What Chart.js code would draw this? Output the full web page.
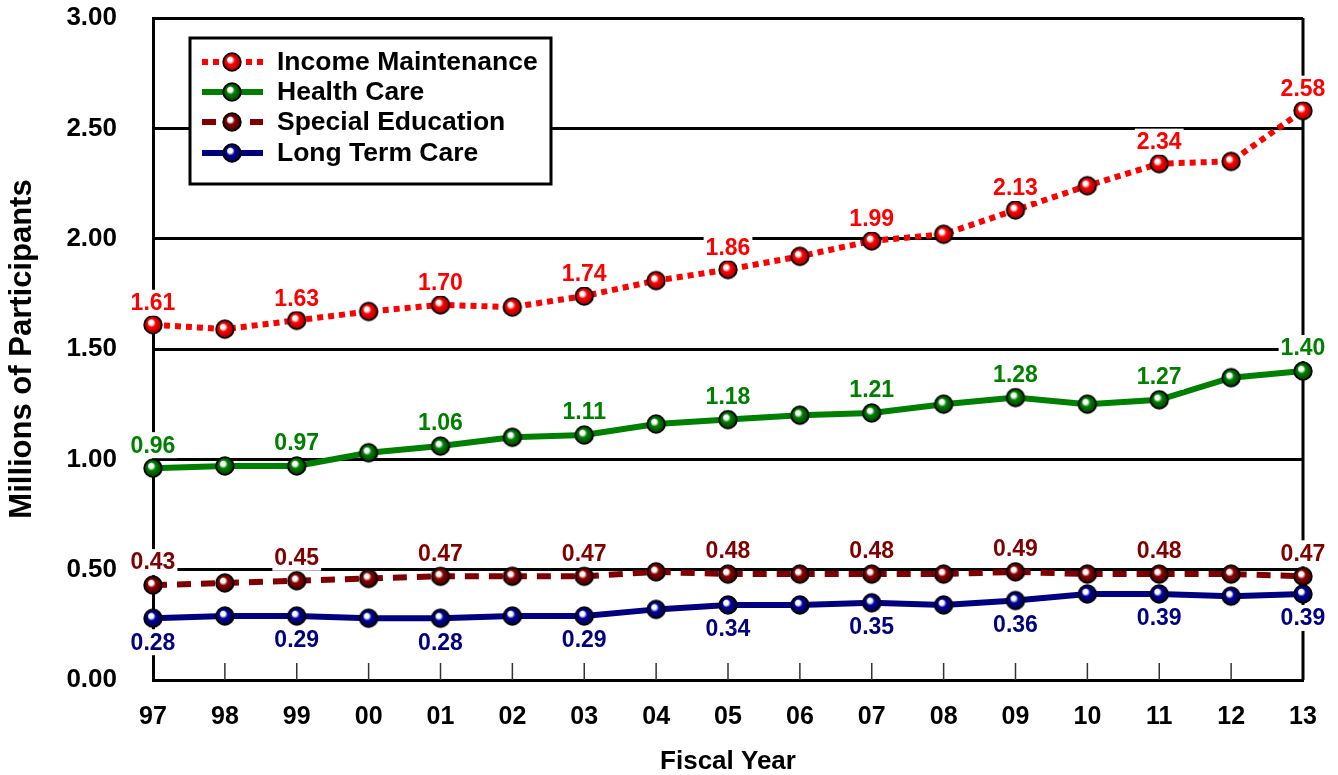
<!DOCTYPE html>
<html>
<head>
<meta charset="utf-8">
<script src="https://cdn.jsdelivr.net/npm/chart.js@4.4.1/dist/chart.umd.min.js"></script>
<style>
  html, body { margin: 0; padding: 0; background: #fff; }
  #chart { display: block; }
</style>
</head>
<body>
<canvas id="chart" width="1338" height="775"></canvas>
<script>
// fiscal years and participants (millions)
const years = ["97", "98", "99", "00", "01", "02", "03", "04", "05", "06", "07", "08", "09", "10", "11", "12", "13"];
const incomeMaintenance = [1.61, 1.59, 1.63, 1.67, 1.70, 1.69, 1.74, 1.81, 1.86, 1.92, 1.99, 2.02, 2.13, 2.24, 2.34, 2.35, 2.58];
const healthCare = [0.96, 0.97, 0.97, 1.03, 1.06, 1.10, 1.11, 1.16, 1.18, 1.20, 1.21, 1.25, 1.28, 1.25, 1.27, 1.37, 1.40];
const specialEducation = [0.43, 0.44, 0.45, 0.46, 0.47, 0.47, 0.47, 0.49, 0.48, 0.48, 0.48, 0.48, 0.49, 0.48, 0.48, 0.48, 0.47];
const longTermCare = [0.28, 0.29, 0.29, 0.28, 0.28, 0.29, 0.29, 0.32, 0.34, 0.34, 0.35, 0.34, 0.36, 0.39, 0.39, 0.38, 0.39];
const seriesNames = ["Income Maintenance", "Health Care", "Special Education", "Long Term Care"];
const yTickValues = [0, 0.5, 1.0, 1.5, 2.0, 2.5, 3.0];

const FONT = "'Liberation Sans', Arial, Helvetica, sans-serif";

// little shaded ball used as point marker
function sphere(color, dark) {
  const s = 22;
  const c = document.createElement("canvas");
  c.width = s; c.height = s;
  const g = c.getContext("2d");
  const r = 8.8;
  const grad = g.createRadialGradient(s / 2 - 2.5, s / 2 - 3, 0.5, s / 2, s / 2, r);
  grad.addColorStop(0, "#ffffff");
  grad.addColorStop(0.22, "#ffffff");
  grad.addColorStop(0.45, color);
  grad.addColorStop(1, dark);
  g.beginPath();
  g.arc(s / 2, s / 2, r, 0, Math.PI * 2);
  g.fillStyle = grad;
  g.fill();
  g.lineWidth = 1.8;
  g.strokeStyle = "#000";
  g.stroke();
  return c;
}

const colors = ["#ff0000", "#008000", "#800000", "#000080"];
const markers = [
  sphere("#ff0000", "#a00000"),
  sphere("#008000", "#004000"),
  sphere("#8b0000", "#400000"),
  sphere("#0000a0", "#000040")
];
const dashes = [[6, 5], [], [14, 10], []];
const labelOffsets = [-22, -23, -23, 24];

function makeDataset(i, data) {
  return {
    label: seriesNames[i],
    data: data,
    borderColor: colors[i],
    borderWidth: 6,
    borderDash: dashes[i],
    borderCapStyle: "butt",
    tension: 0,
    fill: false,
    pointStyle: markers[i],
    pointRadius: 9,
    pointHoverRadius: 9,
    clip: false
  };
}

// frame line on the right + inside tick marks
const framePlugin = {
  id: "frame",
  beforeDatasetsDraw(chart) {
    const { ctx, chartArea } = chart;
    const x = chart.scales.x;
    ctx.save();
    ctx.strokeStyle = "#333";
    ctx.lineWidth = 1.5;
    for (let i = 1; i < years.length - 1; i++) {
      const px = x.getPixelForValue(i);
      ctx.beginPath();
      ctx.moveTo(px, chartArea.bottom);
      ctx.lineTo(px, chartArea.bottom - 17);
      ctx.stroke();
    }
    ctx.strokeStyle = "#000";
    ctx.lineWidth = 3;
    ctx.beginPath();
    ctx.moveTo(chartArea.right, chartArea.top);
    ctx.lineTo(chartArea.right, chartArea.bottom);
    ctx.stroke();
    ctx.restore();
  }
};

// value labels on every other year + legend box
const labelPlugin = {
  id: "valueLabels",
  afterDraw(chart) {
    const ctx = chart.ctx;
    ctx.save();

    // legend
    const lx = 190, ly = 38, lw = 361, lh = 146;
    ctx.fillStyle = "#fff";
    ctx.fillRect(lx, ly, lw, lh);
    ctx.strokeStyle = "#000";
    ctx.lineWidth = 3;
    ctx.strokeRect(lx, ly, lw, lh);
    const rows = [62, 92, 122, 153];
    ctx.font = "bold 26.5px " + FONT;
    ctx.textAlign = "left";
    ctx.textBaseline = "middle";
    seriesNames.forEach((name, i) => {
      const y = rows[i];
      ctx.strokeStyle = colors[i];
      ctx.lineWidth = 6;
      ctx.setLineDash(dashes[i]);
      ctx.lineCap = "butt";
      ctx.beginPath();
      ctx.moveTo(202, y);
      ctx.lineTo(263, y);
      ctx.stroke();
      ctx.setLineDash([]);
      const m = markers[i];
      ctx.drawImage(m, 232 - m.width / 2, y - m.height / 2);
      ctx.fillStyle = "#000";
      ctx.fillText(name, 277, y + 1);
    });

    // data labels
    ctx.font = "bold 23px " + FONT;
    ctx.textAlign = "center";
    chart.data.datasets.forEach((ds, di) => {
      const meta = chart.getDatasetMeta(di);
      meta.data.forEach((pt, i) => {
        if (i % 2) return;
        const txt = ds.data[i].toFixed(2);
        const y = pt.y + labelOffsets[di];
        const w = ctx.measureText(txt).width;
        ctx.fillStyle = "#fff";
        ctx.fillRect(pt.x - w / 2 - 2, y - 13, w + 4, 26);
        ctx.fillStyle = colors[di];
        ctx.fillText(txt, pt.x, y + 1);
      });
    });
    ctx.restore();
  }
};

Chart.defaults.font.family = FONT;
Chart.defaults.font.weight = "bold";
Chart.defaults.color = "#000";

new Chart(document.getElementById("chart"), {
  type: "line",
  data: {
    labels: years,
    datasets: [
      makeDataset(0, incomeMaintenance),
      makeDataset(1, healthCare),
      makeDataset(2, specialEducation),
      makeDataset(3, longTermCare)
    ]
  },
  options: {
    responsive: false,
    animation: false,
    layout: { padding: { left: 0, right: 35, top: 18, bottom: 0 } },
    plugins: {
      legend: { display: false },
      tooltip: { enabled: false }
    },
    scales: {
      x: {
        offset: false,
        grid: { display: false, drawTicks: false },
        border: { display: true, color: "#000", width: 3 },
        ticks: { font: { size: 25, weight: "bold" }, padding: 22, maxRotation: 0, autoSkip: false },
        title: {
          display: true,
          text: "Fiscal Year",
          font: { size: 26, weight: "bold", lineHeight: 1 },
          padding: { top: 0, bottom: 0 }
        },
        afterFit(scale) {
          scale.height = 95;
          scale.paddingLeft = 0;
          scale.paddingRight = 0;
        }
      },
      y: {
        min: 0,
        max: 3,
        afterBuildTicks(scale) { scale.ticks = yTickValues.map(v => ({ value: v })); },
        grid: { color: "#000", lineWidth: 3, drawTicks: false },
        border: { display: true, color: "#000", width: 3 },
        ticks: {
          font: { size: 26, weight: "bold" },
          padding: 36,
          callback: v => Number(v).toFixed(2)
        },
        title: {
          display: true,
          text: "Millions of Participants",
          font: { size: 31, weight: "bold", lineHeight: 1.2 },
          padding: { top: 4, bottom: 0 }
        },
        afterFit(scale) {
          scale.width = 153;
          scale.paddingTop = 0;
          scale.paddingBottom = 0;
        }
      }
    }
  },
  plugins: [framePlugin, labelPlugin]
});
</script>
</body>
</html>
